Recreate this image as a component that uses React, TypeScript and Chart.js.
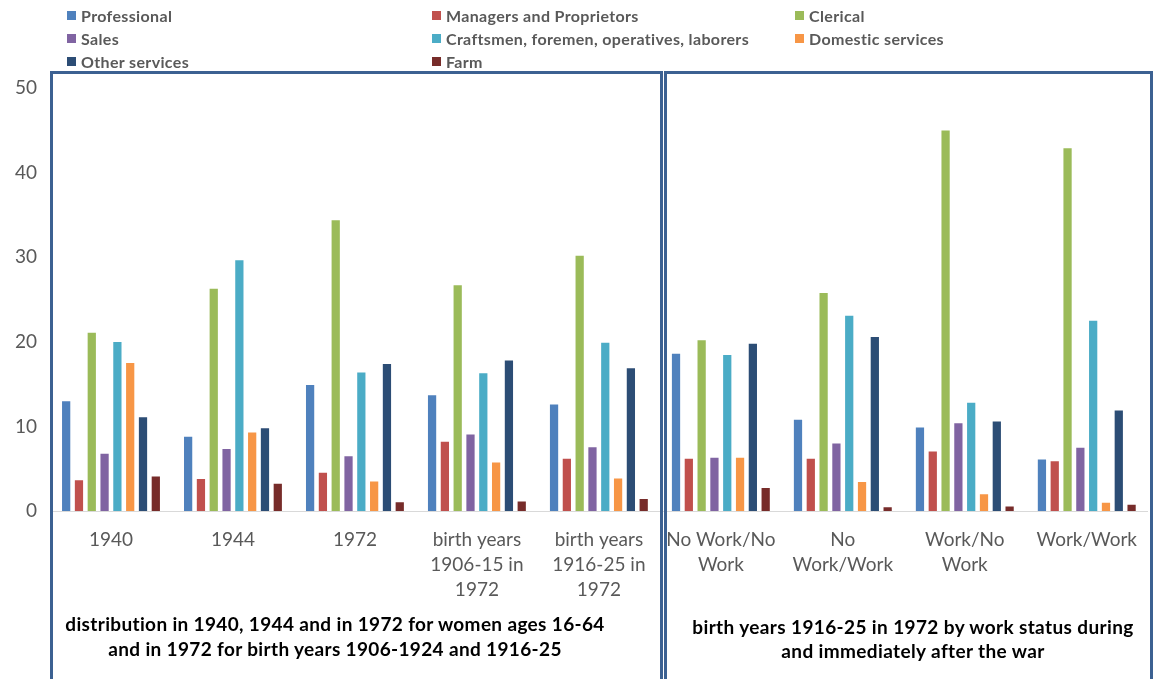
import React, { useEffect, useRef } from "react";
import { Chart, registerables } from "chart.js";

Chart.register(...registerables);

// ---- data ----
const categories: string[][] = [
  ["1940"],
  ["1944"],
  ["1972"],
  ["birth years", "1906-15 in", "1972"],
  ["birth years", "1916-25 in", "1972"],
  ["No Work/No", "Work"],
  ["No", "Work/Work"],
  ["Work/No", "Work"],
  ["Work/Work"],
];

const seriesNames = [
  "Professional",
  "Managers and Proprietors",
  "Clerical",
  "Sales",
  "Craftsmen, foremen, operatives, laborers",
  "Domestic services",
  "Other services",
  "Farm",
];

const seriesColors = [
  "#4F81BD",
  "#C0504D",
  "#9BBB59",
  "#8064A2",
  "#4BACC6",
  "#F79646",
  "#2C4D75",
  "#772C2A",
];

const professional = [13.1, 8.9, 15.0, 13.8, 12.7, 18.7, 10.9, 10.0, 6.2];
const managers = [3.75, 3.9, 4.65, 8.3, 6.3, 6.3, 6.3, 7.15, 6.0];
const clerical = [21.2, 26.4, 34.5, 26.8, 30.3, 20.3, 25.9, 45.1, 43.0];
const sales = [6.9, 7.45, 6.6, 9.15, 7.65, 6.4, 8.1, 10.5, 7.6];
const craftsmen = [20.1, 29.75, 16.5, 16.4, 20.0, 18.55, 23.2, 12.9, 22.6];
const domestic = [17.6, 9.4, 3.6, 5.85, 3.95, 6.4, 3.55, 2.1, 1.1];
const otherServices = [11.2, 9.9, 17.5, 17.9, 17.0, 19.9, 20.7, 10.7, 12.0];
const farm = [4.2, 3.35, 1.15, 1.25, 1.55, 2.85, 0.55, 0.65, 0.87];

const seriesValues = [professional, managers, clerical, sales, craftsmen, domestic, otherServices, farm];

const yTicks = [0, 10, 20, 30, 40, 50];

const leftNote = [
  "distribution in 1940, 1944 and in 1972 for women ages 16-64",
  "and in 1972 for birth years 1906-1924 and 1916-25",
];
const rightNote = [
  "birth years 1916-25 in 1972 by work status during",
  "and immediately after the war",
];

const FONT = "Lato, 'Liberation Sans', sans-serif";
const W = 1154;
const H = 679;

const boxPlugin = {
  id: "panelBoxes",
  afterDraw(chart: any) {
    const ctx = chart.ctx as CanvasRenderingContext2D;
    ctx.save();
    ctx.lineWidth = 3;
    ctx.strokeStyle = "#3C6192";
    ctx.beginPath();
    ctx.moveTo(51.5, H + 10);
    ctx.lineTo(51.5, 72.5);
    ctx.lineTo(661.5, 72.5);
    ctx.lineTo(661.5, H + 10);
    ctx.moveTo(665.5, H + 10);
    ctx.lineTo(665.5, 72.5);
    ctx.lineTo(1151.5, 72.5);
    ctx.lineTo(1151.5, H + 10);
    ctx.stroke();
    ctx.restore();
  },
};

export default function App() {
  const ref = useRef<HTMLCanvasElement | null>(null);

  useEffect(() => {
    if (!ref.current) return;
    const chart = new Chart(ref.current, {
      type: "bar",
      data: {
        labels: categories,
        datasets: seriesNames.map((name, i) => ({
          label: name,
          data: seriesValues[i],
          backgroundColor: seriesColors[i],
          borderColor: "rgba(255,255,255,0.3)",
          borderWidth: 1,
          categoryPercentage: 0.84,
          barPercentage: 0.8,
        })),
      },
      options: {
        responsive: false,
        animation: false,
        layout: { padding: { top: 88, right: 0, bottom: 0, left: 0 } },
        plugins: {
          legend: { display: false },
          tooltip: { enabled: false },
        },
        scales: {
          x: {
            grid: { display: false, drawTicks: false },
            border: { display: true, color: "#D9D9D9", width: 1 },
            ticks: {
              color: "#595959",
              font: { family: FONT, size: 19, lineHeight: 1.3 },
              padding: 17,
              maxRotation: 0,
              autoSkip: false,
            },
            afterFit: (s: any) => {
              s.height = H - 511;
            },
          },
          y: {
            min: 0,
            max: 50,
            afterBuildTicks: (s: any) => {
              s.ticks = yTicks.map((v) => ({ value: v }));
            },
            grid: { display: false, drawTicks: false },
            border: { display: false },
            ticks: {
              color: "#595959",
              font: { family: FONT, size: 19 },
              padding: 13,
            },
            afterFit: (s: any) => {
              s.width = 50;
            },
          },
        },
      },
      plugins: [boxPlugin],
    });
    return () => chart.destroy();
  }, []);

  const legendCols = [67, 432, 795];
  const legendRows = [15.5, 38.5, 61];

  return (
    <div style={{ position: "absolute", left: 0, top: 0, width: W, height: H, background: "#fff", overflow: "hidden" }}>
      <canvas ref={ref} width={W} height={H} style={{ position: "absolute", left: 0, top: 0, width: W, height: H }} />
      {seriesNames.map((name, i) => {
        const col = i % 3;
        const row = Math.floor(i / 3);
        return (
          <div
            key={name}
            style={{
              position: "absolute",
              left: legendCols[col],
              top: legendRows[row] - 10,
              height: 20,
              display: "flex",
              alignItems: "center",
              fontFamily: FONT,
              fontWeight: 700,
              fontSize: 16,
              letterSpacing: "0.35px",
              color: "#595959",
              whiteSpace: "nowrap",
            }}
          >
            <span style={{ display: "inline-block", width: 9, height: 9, background: seriesColors[i], marginRight: 5 }} />
            {name}
          </div>
        );
      })}
      <div
        style={{
          position: "absolute",
          left: 52,
          width: 566,
          top: 611,
          textAlign: "center",
          fontFamily: FONT,
          fontWeight: 700,
          fontSize: 19,
          letterSpacing: "0.35px",
          lineHeight: "25px",
          color: "#000",
          whiteSpace: "nowrap",
        }}
      >
        {leftNote.map((l) => (
          <div key={l}>{l}</div>
        ))}
      </div>
      <div
        style={{
          position: "absolute",
          left: 666,
          width: 494,
          top: 615,
          textAlign: "center",
          fontFamily: FONT,
          fontWeight: 700,
          fontSize: 19,
          letterSpacing: "0.38px",
          lineHeight: "24px",
          color: "#000",
          whiteSpace: "nowrap",
        }}
      >
        {rightNote.map((l) => (
          <div key={l}>{l}</div>
        ))}
      </div>
    </div>
  );
}
